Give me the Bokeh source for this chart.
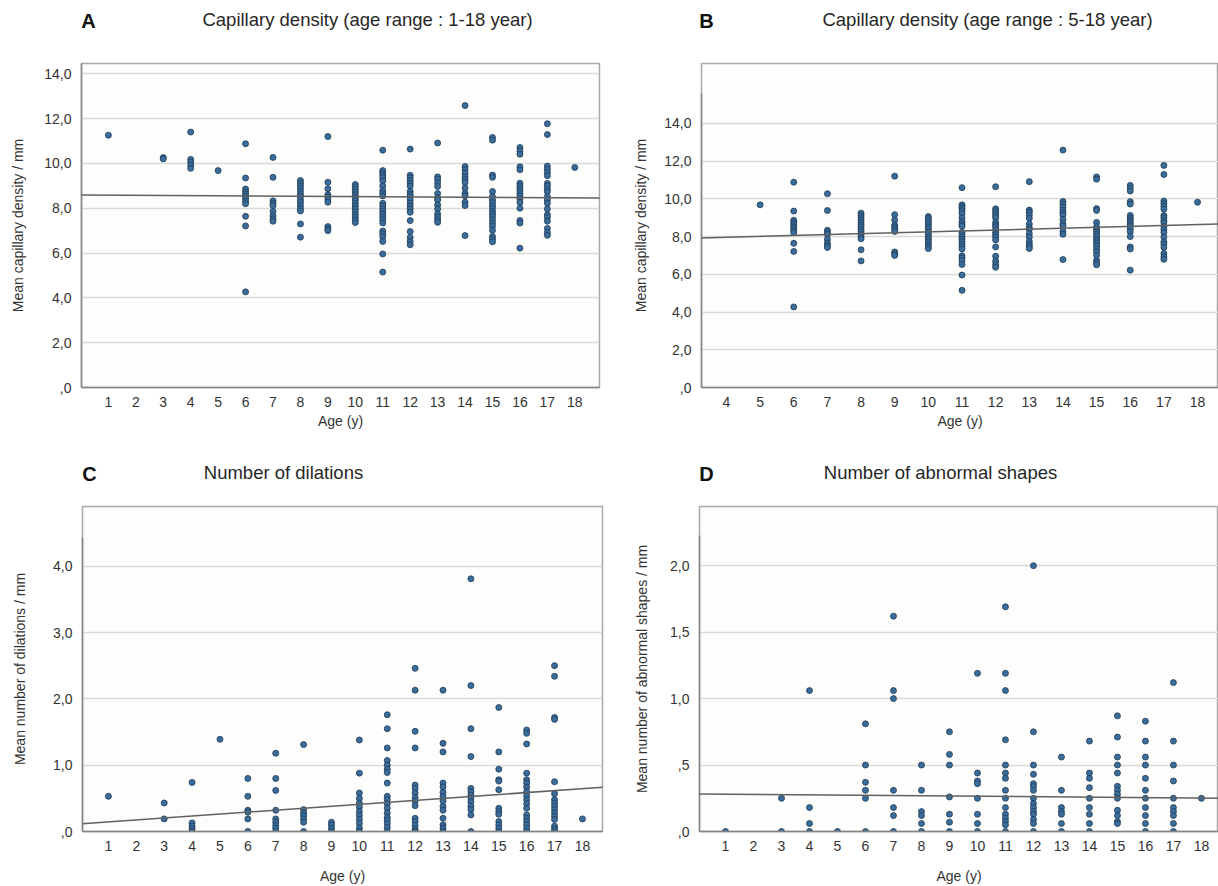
from bokeh.plotting import figure
from bokeh.layouts import row, column
from bokeh.models import Label, Slope, FixedTicker, Range1d
from bokeh.embed import file_html
from bokeh.resources import INLINE

# ---------------- data ----------------
ages = list(range(1, 19))

# Mean capillary density / mm, one list per age 1..18
density_by_age = [
    [11.26],
    [],
    [10.26, 10.2],
    [11.4, 10.18, 10.06, 9.92, 9.78],
    [9.68],
    [10.88, 9.35, 8.86, 8.74, 8.64, 8.52, 8.42, 8.3, 8.2, 7.64, 7.21, 4.27],
    [10.27, 9.38, 8.33, 8.22, 8.12, 7.86, 7.66, 7.53, 7.42],
    [9.24, 9.13, 9.01, 8.88, 8.75, 8.62, 8.52, 8.38, 8.26, 8.12, 7.99, 7.88, 7.3, 6.71],
    [11.2, 9.16, 8.87, 8.6, 8.5, 8.38, 8.27, 7.18, 7.08, 7.0],
    [9.06, 8.96, 8.84, 8.72, 8.6, 8.48, 8.36, 8.22, 8.1, 7.97, 7.85, 7.72, 7.6, 7.47, 7.36],
    [10.59, 9.68, 9.58, 9.48, 9.36, 9.22, 8.99, 8.78, 8.66, 8.55, 8.22, 8.1, 7.97, 7.85,
     7.73, 7.6, 7.48, 7.34, 6.98, 6.86, 6.73, 6.52, 5.96, 5.15],
    [10.64, 9.47, 9.36, 9.23, 9.11, 8.99, 8.75, 8.62, 8.52, 8.37, 8.22, 8.1, 7.97, 7.82,
     7.45, 6.96, 6.7, 6.52, 6.37],
    [10.91, 9.4, 9.29, 9.14, 8.97, 8.66, 8.47, 8.37, 8.15, 7.97, 7.74, 7.6, 7.48, 7.37],
    [12.58, 9.86, 9.72, 9.56, 9.4, 9.27, 9.15, 8.9, 8.67, 8.55, 8.27, 8.12, 6.78],
    [11.16, 11.04, 9.48, 9.38, 8.75, 8.52, 8.37, 8.25, 8.12, 8.0, 7.86, 7.75, 7.63, 7.48,
     7.33, 7.19, 7.01, 6.74, 6.62, 6.5],
    [10.71, 10.56, 10.41, 9.85, 9.72, 9.12, 8.99, 8.89, 8.78, 8.67, 8.55, 8.41, 8.26, 8.0,
     7.45, 7.34, 6.22],
    [11.77, 11.29, 9.88, 9.74, 9.6, 9.45, 9.11, 9.0, 8.85, 8.74, 8.52, 8.37, 8.22, 7.97,
     7.71, 7.59, 7.42, 7.1, 6.92, 6.79],
    [9.82],
]

# Mean number of dilations / mm
dilations_by_age = [
    [0.53],
    [],
    [0.43, 0.19],
    [0.74, 0.13, 0.08, 0.04, 0.0],
    [1.39],
    [0.80, 0.53, 0.32, 0.29, 0.19, 0.0],
    [1.18, 0.80, 0.62, 0.32, 0.19, 0.14, 0.09, 0.05, 0.0],
    [1.31, 0.33, 0.28, 0.24, 0.19, 0.14, 0.0],
    [0.14, 0.10, 0.05, 0.0],
    [1.38, 0.88, 0.58, 0.50, 0.43, 0.37, 0.30, 0.24, 0.18, 0.12, 0.05, 0.0],
    [1.76, 1.55, 1.26, 1.07, 1.0, 0.94, 0.89, 0.73, 0.53, 0.48, 0.42, 0.35, 0.28, 0.21,
     0.17, 0.12, 0.06, 0.0],
    [2.46, 2.13, 1.51, 1.26, 0.70, 0.65, 0.58, 0.51, 0.46, 0.39, 0.20, 0.15, 0.09, 0.03, 0.0],
    [2.13, 1.33, 1.20, 0.73, 0.67, 0.59, 0.53, 0.46, 0.38, 0.32, 0.20, 0.10, 0.05, 0.0],
    [3.81, 2.20, 1.55, 1.13, 0.65, 0.60, 0.55, 0.50, 0.45, 0.38, 0.33, 0.25, 0.0],
    [1.87, 1.20, 0.94, 0.78, 0.76, 0.63, 0.35, 0.30, 0.26, 0.15, 0.10, 0.05, 0.0],
    [1.53, 1.48, 1.32, 0.88, 0.78, 0.73, 0.67, 0.60, 0.54, 0.48, 0.42, 0.35, 0.25, 0.20,
     0.15, 0.10, 0.05, 0.0],
    [2.50, 2.34, 1.72, 1.69, 0.75, 0.57, 0.48, 0.43, 0.38, 0.33, 0.28, 0.23, 0.18, 0.08,
     0.04, 0.0],
    [0.19],
]

# Mean number of abnormal shapes / mm
abnormal_by_age = [
    [0.0],
    [],
    [0.25, 0.0],
    [1.06, 0.18, 0.06, 0.0],
    [0.0],
    [0.81, 0.50, 0.37, 0.31, 0.25, 0.0],
    [1.62, 1.06, 1.0, 0.31, 0.18, 0.12, 0.0],
    [0.50, 0.31, 0.15, 0.12, 0.06, 0.0],
    [0.75, 0.58, 0.50, 0.26, 0.13, 0.07, 0.0],
    [1.19, 0.44, 0.38, 0.36, 0.25, 0.13, 0.06, 0.0],
    [1.69, 1.19, 1.06, 0.69, 0.50, 0.44, 0.40, 0.31, 0.25, 0.18, 0.13, 0.10, 0.075, 0.05, 0.0],
    [2.0, 0.75, 0.50, 0.43, 0.36, 0.34, 0.31, 0.25, 0.21, 0.18, 0.15, 0.13, 0.09, 0.06, 0.0],
    [0.56, 0.31, 0.18, 0.15, 0.13, 0.06, 0.0],
    [0.68, 0.44, 0.40, 0.33, 0.25, 0.18, 0.13, 0.06, 0.0],
    [0.87, 0.71, 0.56, 0.50, 0.44, 0.34, 0.31, 0.28, 0.25, 0.16, 0.12, 0.075, 0.06],
    [0.83, 0.68, 0.56, 0.50, 0.40, 0.31, 0.25, 0.18, 0.12, 0.06, 0.0],
    [1.12, 0.68, 0.50, 0.38, 0.25, 0.18, 0.15, 0.12, 0.06, 0.0],
    [0.25],
]

# fit lines: (intercept at age 0, slope per year)
fit_A = (8.59, -0.0069)
fit_B = (7.77, 0.048)
fit_C = (0.115, 0.0295)
fit_D = (0.283, -0.0018)

x_ticks_all = list(range(1, 19))
x_ticks_B = list(range(4, 19))
y_ticks_density = [0, 2, 4, 6, 8, 10, 12, 14]
y_labels_density = [",0", "2,0", "4,0", "6,0", "8,0", "10,0", "12,0", "14,0"]
y_ticks_dil = [0, 1, 2, 3, 4]
y_labels_dil = [",0", "1,0", "2,0", "3,0", "4,0"]
y_ticks_abn = [0, 0.5, 1.0, 1.5, 2.0]
y_labels_abn = [",0", ",5", "1,0", "1,5", "2,0"]

titles = ["Capillary density (age range : 1-18 year)",
          "Capillary density (age range : 5-18 year)",
          "Number of dilations",
          "Number of abnormal shapes"]
letters = ["A", "B", "C", "D"]
y_titles = ["Mean capillary density / mm", "Mean capillary density / mm",
            "Mean number of dilations / mm", "Mean number of abnormal shapes / mm"]
x_title = "Age (y)"


def flatten(by_age, min_age=1):
    xs, ys = [], []
    for a, vals in zip(ages, by_age):
        if a < min_age:
            continue
        for v in vals:
            xs.append(a)
            ys.append(v)
    return xs, ys


FONT = "Liberation Sans"
DOT_FILL = "#3b6d9b"
DOT_LINE = "#1d3a57"
TOTAL_W = 1218


def header(top, height, items):
    """A strip above a row of panels; its data units are page pixels."""
    h = figure(width=TOTAL_W, height=height, x_range=Range1d(0, TOTAL_W),
               y_range=Range1d(top + height, top), x_axis_type=None, y_axis_type=None,
               output_backend="svg", toolbar_location=None,
               min_border_left=0, min_border_right=0, min_border_top=0, min_border_bottom=0)
    h.outline_line_color = None
    h.background_fill_color = "white"
    h.border_fill_color = "white"
    h.xgrid.visible = False
    h.ygrid.visible = False
    for (x, y, text, size, bold) in items:
        h.add_layout(Label(x=x, y=y, text=text, text_align="center", text_baseline="middle",
                           text_font=FONT, text_font_size=size,
                           text_font_style="bold" if bold else "normal",
                           text_color="#111111" if bold else "#262626"))
    return h


def panel(width, height, bl, br, bt, bb, xr, yr, xticks, yticks, ylabels,
          ybound, xs, ys, fit, ytitle, ylab_standoff, xlab_standoff):
    p = figure(width=width, height=height, x_range=xr, y_range=yr,
               output_backend="svg", toolbar_location=None,
               min_border_left=bl, min_border_right=br,
               min_border_top=bt, min_border_bottom=bb)
    p.background_fill_color = "#fdfdfb"
    p.border_fill_color = "white"
    p.outline_line_color = "#a9a9a9"
    p.outline_line_width = 1.5

    p.xgrid.visible = False
    p.ygrid.ticker = FixedTicker(ticks=yticks)
    p.ygrid.grid_line_color = "#dadada"
    p.ygrid.grid_line_width = 1.5

    for ax in (p.xaxis[0], p.yaxis[0]):
        ax.axis_line_color = "#858585"
        ax.axis_line_width = 1.5
        ax.major_tick_line_color = None
        ax.minor_tick_line_color = None
        ax.major_label_text_font = FONT
        ax.major_label_text_font_size = "14px"
        ax.major_label_text_color = "#333333"
        ax.axis_label_text_font = FONT
        ax.axis_label_text_font_size = "14px"
        ax.axis_label_text_font_style = "normal"
        ax.axis_label_text_color = "#333333"

    p.xaxis.ticker = FixedTicker(ticks=xticks)
    p.xaxis.major_label_standoff = 3
    p.xaxis.axis_label = x_title
    p.xaxis.axis_label_standoff = xlab_standoff

    p.yaxis.ticker = FixedTicker(ticks=yticks)
    p.yaxis.major_label_overrides = dict(zip(yticks, ylabels))
    p.yaxis.major_label_standoff = 4
    p.yaxis.axis_label = ytitle
    p.yaxis.axis_label_standoff = ylab_standoff
    if ybound is not None:
        p.yaxis.bounds = (0, ybound)

    p.add_layout(Slope(gradient=fit[1], y_intercept=fit[0],
                       line_color="#616161", line_width=1.5))
    p.scatter(xs, ys, size=6, fill_color=DOT_FILL, line_color=DOT_LINE, line_width=0.8)
    return p


dA = flatten(density_by_age)
dB = flatten(density_by_age, min_age=5)
dC = flatten(dilations_by_age)
dD = flatten(abnormal_by_age)

# page layout (the page has no body margin): header 0-48, row 1 48-440,
# header 440-490, row 2 490-886
h1 = header(0, 48, [(88, 20, letters[0], "20px", True),
                    (367, 19, titles[0], "18.5px", False),
                    (706, 20, letters[1], "20px", True),
                    (987, 19, titles[1], "18.5px", False)])
h2 = header(440, 50, [(89, 473, letters[2], "20px", True),
                      (283, 472, titles[2], "18.5px", False),
                      (706, 473, letters[3], "20px", True),
                      (940, 472, titles[3], "18.5px", False)])

pA = panel(630, 392, 81, 31, 15, 53, (0.02, 18.9), (0, 14.46),
           x_ticks_all, y_ticks_density, y_labels_density, None, dA[0], dA[1], fit_A,
           y_titles[0], 15, 3)
pB = panel(588, 392, 70, 0, 15, 52, (3.258, 18.623), (0, 17.17),
           x_ticks_B, y_ticks_density, y_labels_density, 15.6, dB[0], dB[1], fit_B,
           y_titles[1], 12, 3)
pC = panel(630, 396, 82, 28, 16, 55, (0.07, 18.72), (0, 4.9),
           x_ticks_all, y_ticks_dil, y_labels_dil, 4.44, dC[0], dC[1], fit_C,
           y_titles[2], 22, 14)
pD = panel(588, 396, 69, 0, 16, 55, (0.071, 18.61), (0, 2.445),
           x_ticks_all, y_ticks_abn, y_labels_abn, 2.23, dD[0], dD[1], fit_D,
           y_titles[3], 17, 14)

layout = column(h1, row(pA, pB), h2, row(pC, pD))
open("out.html", "w").write(file_html(layout, INLINE))
